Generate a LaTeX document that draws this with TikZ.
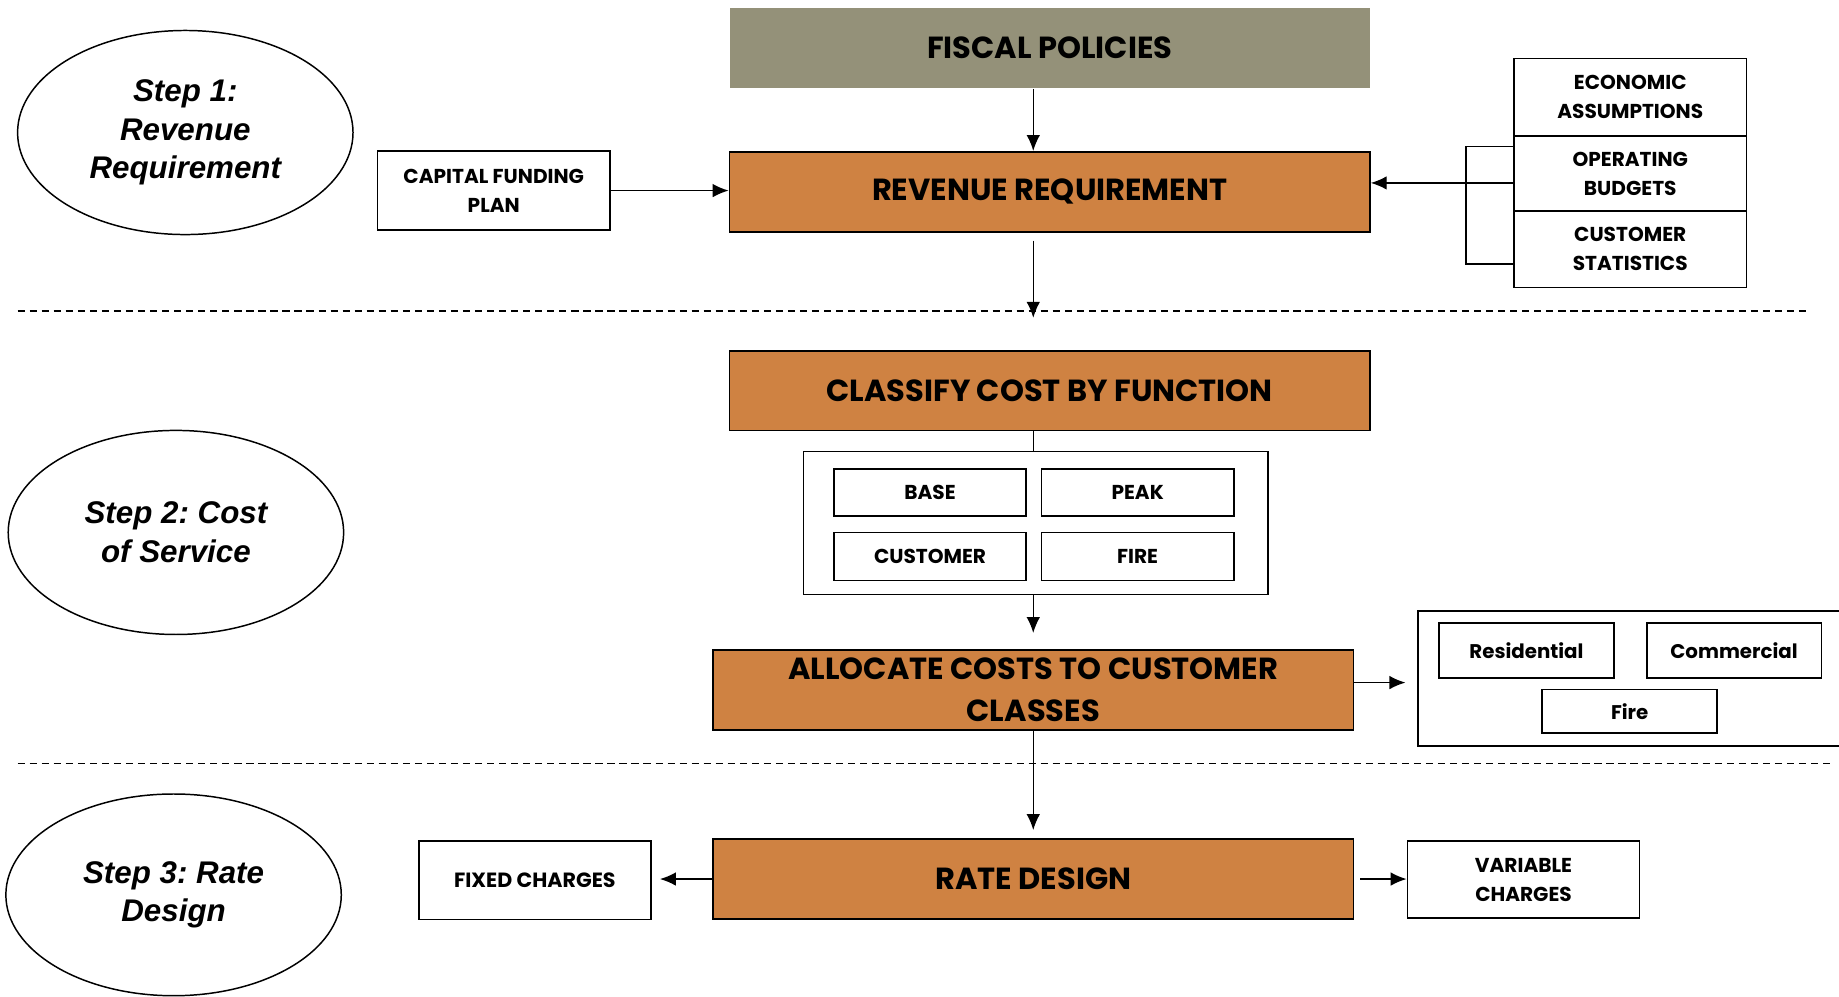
\documentclass[tikz,border=0pt]{standalone}
\usepackage{fontspec}
\usetikzlibrary{arrows.meta}
\usetikzlibrary{shapes.geometric}
\newfontfamily\gothicfont{Poppins}
\newfontfamily\arialfont{Liberation Sans}
\definecolor{fiscalgray}{RGB}{148,145,121}
\definecolor{boxorange}{RGB}{207,130,66}
\frenchspacing

\tikzset{
  stepoval/.style={ellipse,draw=black,line width=0.9pt,minimum width=7.15cm,minimum height=4.35cm,align=center,font=\arialfont\bfseries\itshape\fontsize{19}{23.4}\selectfont},
  mainbox/.style={rectangle,draw=black,line width=1.1pt,fill=boxorange,minimum width=13.65cm,minimum height=1.7cm,align=center,font=\gothicfont\bfseries\fontsize{18.5}{25.5}\selectfont},
  sidebox/.style={rectangle,draw=black,line width=1pt,fill=white,minimum width=4.95cm,minimum height=1.675cm,align=center,font=\gothicfont\bfseries\fontsize{12.2}{17.5}\selectfont},
  funcbox/.style={rectangle,draw=black,line width=1pt,minimum width=4.1cm,minimum height=1cm,font=\gothicfont\bfseries\fontsize{12.2}{17.5}\selectfont},
  groupbox/.style={rectangle,draw=black,line width=1pt},
  flow/.style={draw=black,line width=0.9pt,-{Latex[length=3.4mm,width=2.9mm]}},
  divider/.style={draw=black,line width=0.9pt,dash pattern=on 4.4pt off 2.9pt}
}

\begin{document}
\begin{tikzpicture}
\useasboundingbox (0,0) rectangle (39.2,21.25);
\clip (0,0) rectangle (39.2,21.25);

% steps
\node[stepoval] (step1) at (3.95,18.425) {Step 1:\\Revenue\\Requirement};
\node[stepoval] (step2) at (3.75,9.9) {Step 2: Cost\\of Service};
\node[stepoval,minimum height=4.3cm] (step3) at (3.7,2.175) {Step 3: Rate\\Design};

% revenue requirement
\coordinate (spine) at (22.025,0);
\node[mainbox,fill=fiscalgray,draw=none] (fiscal) at (22.375,20.225) {FISCAL POLICIES};
\node[mainbox] (revenue) at (22.375,17.1625) {REVENUE REQUIREMENT};
\node[sidebox] (capital) at (10.525,17.1875) {CAPITAL FUNDING\\PLAN};
\node[sidebox,minimum height=1.65cm] (econ) at (34.75,19.175) {ECONOMIC\\ASSUMPTIONS};
\node[sidebox,minimum height=1.6cm] (oper) at (34.75,17.55) {OPERATING\\BUDGETS};
\node[sidebox,minimum height=1.625cm] (custstat) at (34.75,15.9375) {CUSTOMER\\STATISTICS};
\coordinate (brtop) at (31.25,18.125);
\coordinate (brbot) at (31.25,15.625);
\coordinate (feed) at (31.25,17.35);
\coordinate (cut1) at (22.025,14.475);

\draw[flow] (fiscal.south -| spine) -- (revenue.north -| spine);
\draw[flow] (capital.east) -- (capital.east -| revenue.west);
\draw[line width=0.9pt] (brtop -| econ.west) -- (brtop) -- (brbot) -- (brbot -| custstat.west);
\draw[flow] (feed -| oper.west) -- (feed -| revenue.east);
\draw[flow,shorten <=0.175cm] (revenue.south -| spine) -- (cut1);

\draw[divider] (0.375,14.625) -- (38.5,14.625);

% cost of service
\node[mainbox] (classify) at (22.375,12.925) {CLASSIFY COST BY FUNCTION};
\node[groupbox,minimum width=9.9cm,minimum height=3.05cm] (funcs) at (22.075,10.1) {};
\node[funcbox] (base) at (19.825,10.75) {BASE};
\node[funcbox] (peak) at (24.25,10.75) {PEAK};
\node[funcbox,minimum height=1.025cm] (customer) at (19.825,9.3875) {CUSTOMER};
\node[funcbox,minimum height=1.025cm] (fire) at (24.25,9.3875) {FIRE};
\node[mainbox] (allocate) at (22.025,6.5375) {ALLOCATE COSTS TO CUSTOMER\\CLASSES};
\node[groupbox,minimum width=9.275cm,minimum height=2.875cm] (classes) at (34.8625,6.7875) {};
\node[funcbox,minimum width=3.725cm,minimum height=1.175cm,font=\gothicfont\bfseries\fontsize{12}{17}\selectfont] (resid) at (32.5375,7.3875) {Residential};
\node[funcbox,minimum width=3.725cm,minimum height=1.175cm,font=\gothicfont\bfseries\fontsize{12}{17}\selectfont] (comm) at (36.9625,7.3875) {Commercial};
\node[funcbox,minimum width=3.725cm,minimum height=0.925cm,font=\gothicfont\bfseries\fontsize{12}{17}\selectfont] (classfire) at (34.7375,6.0875) {Fire};
\coordinate (tap) at (0,6.7);

\draw[line width=0.9pt] (classify.south -| spine) -- (funcs.north -| spine);
\draw[flow,shorten >=0.35cm] (funcs.south -| spine) -- (allocate.north -| spine);
\draw[flow,shorten >=0.25cm] (allocate.east |- tap) -- (classes.west |- tap);

\draw[divider] (0.375,4.975) -- (39.0,4.975);

% rate design
\node[mainbox] (rate) at (22.025,2.5125) {RATE DESIGN};
\node[sidebox,font=\gothicfont\bfseries\fontsize{12.5}{17}\selectfont] (fixed) at (11.4,2.4875) {FIXED CHARGES};
\node[sidebox,minimum height=1.65cm] (variable) at (32.475,2.5) {VARIABLE\\CHARGES};

\draw[flow,shorten >=0.175cm] (allocate.south -| spine) -- (rate.north -| spine);
\draw[flow,shorten >=0.175cm] (rate.west) -- (rate.west -| fixed.east);
\draw[flow,shorten <=0.125cm] (rate.east) -- (rate.east -| variable.west);

\end{tikzpicture}
\end{document}
